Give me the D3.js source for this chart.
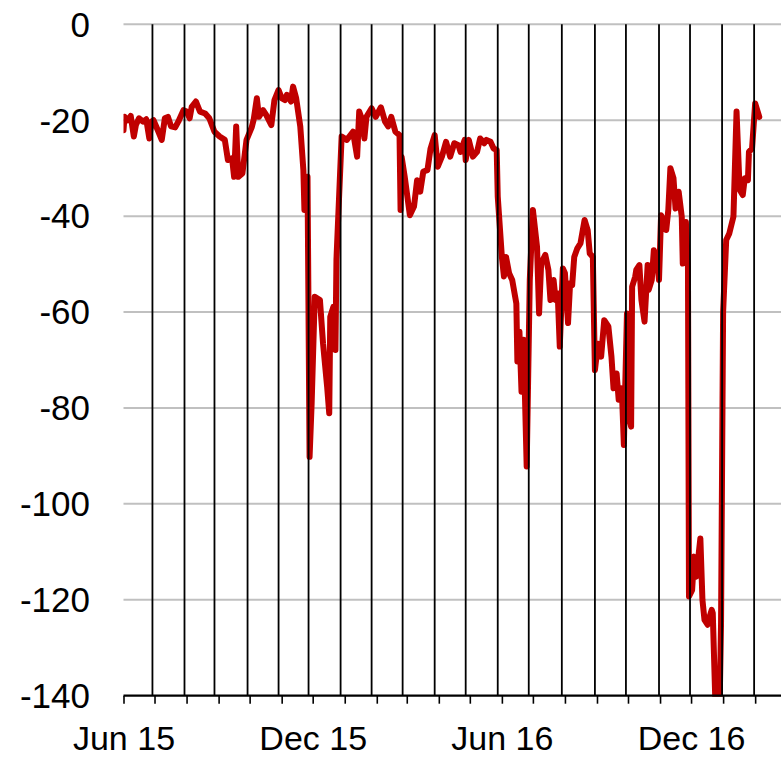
<!DOCTYPE html>
<html><head><meta charset="utf-8">
<script src="https://cdn.jsdelivr.net/npm/d3@7"></script>
<style>body{margin:0;background:#fff}svg{display:block}</style>
</head><body>
<svg id="chart" width="781" height="757"></svg>
<script>
const dates = [
"2015-06-01","2015-06-02","2015-06-05","2015-06-08","2015-06-11","2015-06-13","2015-06-16","2015-06-20","2015-06-23","2015-06-26","2015-06-28","2015-06-30",
"2015-07-04","2015-07-08","2015-07-11","2015-07-14","2015-07-17","2015-07-21","2015-07-24","2015-07-29",
"2015-08-01","2015-08-04","2015-08-06","2015-08-10","2015-08-14","2015-08-19","2015-08-23","2015-08-28",
"2015-09-02","2015-09-07","2015-09-10","2015-09-14","2015-09-16","2015-09-18","2015-09-20","2015-09-24","2015-09-28",
"2015-10-03","2015-10-05","2015-10-08","2015-10-10","2015-10-14","2015-10-17","2015-10-22","2015-10-25","2015-10-29",
"2015-11-01","2015-11-04","2015-11-06","2015-11-10","2015-11-12","2015-11-15","2015-11-19","2015-11-22","2015-11-23","2015-11-26","2015-11-28","2015-11-30",
"2015-12-03","2015-12-08","2015-12-11","2015-12-15","2015-12-17","2015-12-18","2015-12-21","2015-12-23","2015-12-24","2015-12-29",
"2016-01-03","2016-01-09","2016-01-13","2016-01-15","2016-01-18","2016-01-20","2016-01-22","2016-01-27","2016-01-31",
"2016-02-05","2016-02-09","2016-02-12","2016-02-15","2016-02-19","2016-02-23","2016-02-24","2016-02-25","2016-02-28",
"2016-03-04","2016-03-08","2016-03-11","2016-03-14","2016-03-17","2016-03-21","2016-03-24","2016-03-28","2016-03-31",
"2016-04-04","2016-04-08","2016-04-12","2016-04-16","2016-04-20","2016-04-22","2016-04-26","2016-04-27","2016-04-30",
"2016-05-04","2016-05-08","2016-05-11","2016-05-15","2016-05-17","2016-05-21","2016-05-24","2016-05-27","2016-05-28",
"2016-06-01","2016-06-03","2016-06-05","2016-06-08","2016-06-11","2016-06-15","2016-06-16","2016-06-18","2016-06-20","2016-06-22","2016-06-25","2016-06-28",
"2016-07-01","2016-07-05","2016-07-07","2016-07-09","2016-07-13","2016-07-16","2016-07-18","2016-07-21","2016-07-23","2016-07-25","2016-07-27","2016-07-30",
"2016-08-01","2016-08-04","2016-08-06","2016-08-08","2016-08-10","2016-08-13","2016-08-16","2016-08-20","2016-08-23","2016-08-25","2016-08-28","2016-08-30",
"2016-09-02","2016-09-05","2016-09-08","2016-09-12","2016-09-15","2016-09-17","2016-09-20","2016-09-22","2016-09-25","2016-09-27","2016-09-30",
"2016-10-02","2016-10-04","2016-10-05","2016-10-08","2016-10-09","2016-10-12","2016-10-14","2016-10-17","2016-10-20","2016-10-21","2016-10-24","2016-10-26","2016-10-29","2016-10-31",
"2016-11-02","2016-11-05","2016-11-07","2016-11-09","2016-11-11","2016-11-14","2016-11-16","2016-11-19","2016-11-22","2016-11-23","2016-11-26","2016-11-28","2016-11-29",
"2016-12-02","2016-12-04","2016-12-06","2016-12-10","2016-12-12","2016-12-14","2016-12-17","2016-12-18","2016-12-21","2016-12-22","2016-12-25","2016-12-28","2016-12-30",
"2017-01-01","2017-01-04","2017-01-07","2017-01-11","2017-01-14","2017-01-17","2017-01-20","2017-01-22","2017-01-25","2017-01-26","2017-01-29",
"2017-02-01","2017-02-03","2017-02-05"
];
const values = [
-22.1,-19.3,-20,-19.1,-23.4,-21,-19.6,-20.3,-19.8,-23.8,-20.3,-20,
-22,-24.1,-19.6,-19.3,-21.3,-21.5,-20.3,-17.9,
-18.2,-19.6,-17.2,-16.1,-18.2,-18.6,-19.6,-22.4,
-23.4,-24.1,-28.3,-27.9,-31.8,-21.3,-31.8,-31.1,-24.1,
-21.5,-19.8,-15.4,-19.3,-17.9,-18.9,-21,-15.8,-13.7,
-15.4,-15.8,-14.7,-16.1,-13,-15.4,-21.3,-30.4,-38.7,-31.8,-90.2,-79,
-56.8,-57.5,-66.5,-75.6,-81.1,-61,-58.9,-67.9,-49,-23.4,
-24.1,-22.4,-27.6,-18.2,-20,-23.8,-19.3,-17.5,-19.3,
-17.3,-20.3,-21.3,-19.3,-22.4,-23.1,-38.7,-27.6,-31.8,
-39.8,-38,-32.5,-34.9,-30.7,-30.4,-25.9,-23.1,-29.7,
-27.6,-24.5,-27.6,-24.8,-25.2,-26.6,-24.1,-28.3,-24.1,
-27.6,-26.6,-23.8,-24.8,-24.1,-24.5,-25.9,-26.2,-35.9,
-48.5,-52.6,-48.5,-51.9,-53.3,-58.2,-70.3,-64.1,-76.6,-65.8,-92.2,-53.3,
-38.7,-46.4,-60.3,-49.8,-48.1,-51.2,-57.5,-53.3,-57.5,-56.1,-67.2,-50.9,
-51.9,-62.3,-54,-54.4,-48.5,-46.7,-45.7,-40.8,-42.9,-47.8,-48.5,-72.1,
-66.6,-69.3,-61.7,-63,-69.3,-75.9,-72.8,-78.3,-75.9,-87.7,-60.3,
-81.8,-83.9,-54.7,-52.6,-51.2,-50.2,-57.5,-62,-50.2,-55.4,-53.3,-47.1,-49.1,-53.3,
-39.8,-41.2,-42.9,-38.7,-30,-32.1,-38.4,-34.9,-40.1,-49.9,-41.2,-50.5,-119.3,
-118,-111,-115.2,-107.2,-120,-124.2,-125.2,-124.2,-122.1,-122.8,-145,-150,-125,
-60,-45,-43.6,-40.1,-18.2,-34.5,-35.6,-32.1,-32.5,-26.6,-25.9,
-16.5,-17.9,-19.3
];
const monthLines = [
"2015-06-29","2015-07-30","2015-08-28","2015-09-29","2015-10-29","2015-11-27","2015-12-28",
"2016-01-27","2016-02-26","2016-03-28","2016-04-27","2016-05-28","2016-06-27","2016-07-29",
"2016-08-30","2016-09-29","2016-10-31","2016-11-30","2016-12-31","2017-01-31"
];
const yTicks = [0,-20,-40,-60,-80,-100,-120,-140];
const xLabelDates = ["2015-06-01","2015-12-01","2016-06-01","2016-12-01"];
const xDomain = ["2015-06-01","2017-02-26"];
const tickStart = "2015-06-01", tickEnd = "2017-02-02";

const parse = d3.utcParse("%Y-%m-%d");
const svg = d3.select("#chart");
const L = 123.5, R = 781, T = 24.3, B = 695.7;
const FONT = "'Liberation Sans', Arial, sans-serif";

const x = d3.scaleUtc().domain(xDomain.map(parse)).range([L, R]);
const y = d3.scaleLinear().domain([-140, 0]).range([B, T]);

// horizontal gridlines
svg.append("g").selectAll("line").data(yTicks.filter(v => v !== -140)).join("line")
  .attr("x1", L).attr("x2", R).attr("y1", d => y(d)).attr("y2", d => y(d))
  .attr("stroke", "#c0c0c0").attr("stroke-width", 2);

// y labels
svg.append("g").selectAll("text").data(yTicks).join("text")
  .attr("x", 90).attr("y", d => y(d) + 12.3)
  .attr("text-anchor", "end").attr("font-family", FONT).attr("font-size", 35)
  .attr("fill", "#000").text(d => d3.format("d")(d).replace("−", "-"));

// data line
const data = dates.map((d, i) => ({date: parse(d), value: values[i]}));
svg.append("clipPath").attr("id", "clip").append("rect")
  .attr("x", L).attr("y", T - 5).attr("width", R - L).attr("height", B - T + 6);
svg.append("path").datum(data)
  .attr("clip-path", "url(#clip)")
  .attr("fill", "none").attr("stroke", "#c00000").attr("stroke-width", 6)
  .attr("stroke-linejoin", "round").attr("stroke-linecap", "round")
  .attr("d", d3.line().x(d => x(d.date)).y(d => y(d.value)));

// vertical month lines
svg.append("g").selectAll("line").data(monthLines.map(parse)).join("line")
  .attr("x1", d => x(d)).attr("x2", d => x(d)).attr("y1", T).attr("y2", B)
  .attr("stroke", "#000").attr("stroke-width", 1.8);

// x axis
const monthTicks = d3.utcMonth.range(parse(tickStart), parse(tickEnd));
const labelSet = new Set(xLabelDates);
const fmtKey = d3.utcFormat("%Y-%m-%d");
const xAxis = d3.axisBottom(x).tickValues(monthTicks).tickSize(8).tickSizeOuter(0)
  .tickFormat(d => labelSet.has(fmtKey(d)) ? d3.utcFormat("%b %y")(d) : "");
const gx = svg.append("g").attr("transform", `translate(0,${B})`).call(xAxis);
gx.select(".domain").attr("stroke", "#000").attr("stroke-width", 2.2)
  .attr("d", `M${L},0H${R}`);
gx.selectAll(".tick line").attr("stroke", "#000").attr("stroke-width", 1.6);
gx.selectAll(".tick text").attr("font-family", FONT).attr("font-size", 34)
  .attr("fill", "#000").attr("y", 0).attr("dy", 0)
  .attr("transform", "translate(0,54)");
</script>
</body></html>
